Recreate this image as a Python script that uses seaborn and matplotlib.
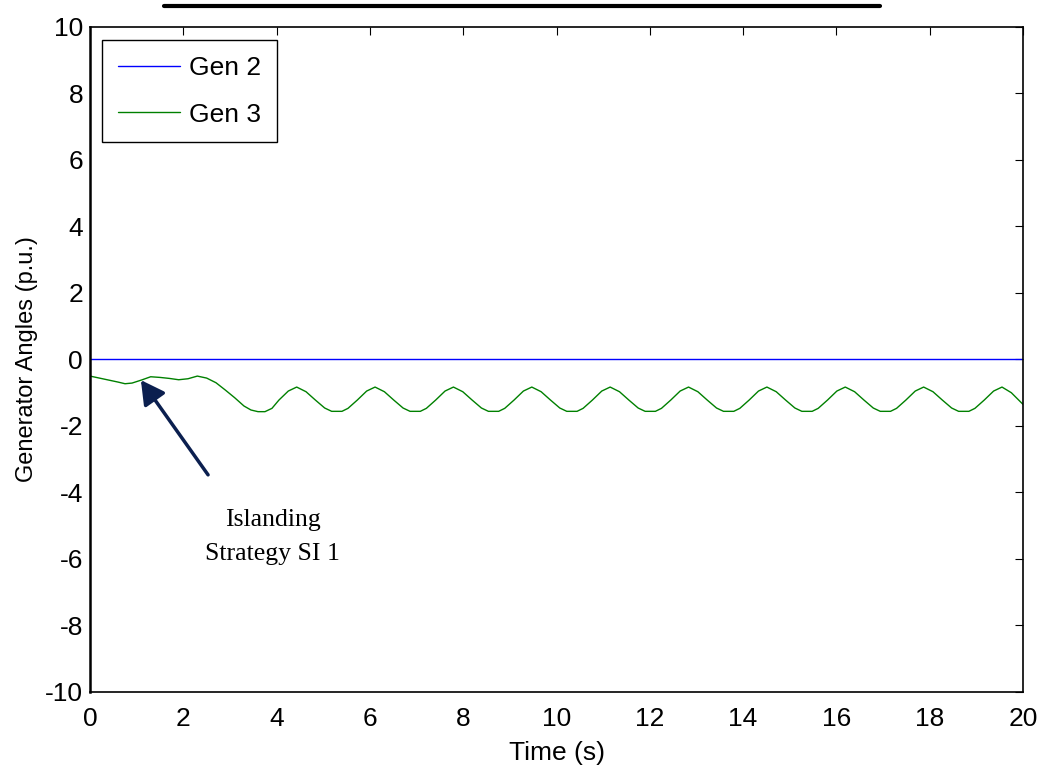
import matplotlib
matplotlib.use("Agg")
import matplotlib.pyplot as plt
from matplotlib.lines import Line2D
import pandas as pd
import seaborn as sns

# Gen 2 stays flat at zero
gen2_time = [0.0, 20.0]
gen2_angle = [0.0, 0.0]

# Gen 3
gen3_time = [0.0, 0.2, 0.4, 0.6, 0.75, 0.9, 1.1, 1.3, 1.5, 1.7, 1.9, 2.1, 2.3, 2.5,
             2.7, 2.9, 3.1, 3.3, 3.45, 3.6, 3.75, 3.9, 4.05, 4.25,
             4.43, 4.63, 4.83, 5.03, 5.18, 5.40, 5.53, 5.73, 5.93,
             6.11, 6.31, 6.51, 6.71, 6.86, 7.08, 7.21, 7.41, 7.61,
             7.79, 7.99, 8.19, 8.39, 8.54, 8.76, 8.89, 9.09, 9.29,
             9.47, 9.67, 9.87, 10.07, 10.22, 10.44, 10.57, 10.77, 10.97,
             11.15, 11.35, 11.55, 11.75, 11.90, 12.12, 12.25, 12.45, 12.65,
             12.83, 13.03, 13.23, 13.43, 13.58, 13.80, 13.93, 14.13, 14.33,
             14.51, 14.71, 14.91, 15.11, 15.26, 15.48, 15.61, 15.81, 16.01,
             16.19, 16.39, 16.59, 16.79, 16.94, 17.16, 17.29, 17.49, 17.69,
             17.87, 18.07, 18.27, 18.47, 18.62, 18.84, 18.97, 19.17, 19.37,
             19.55, 19.75, 20.0]
gen3_angle = [-0.50, -0.56, -0.62, -0.68, -0.73, -0.71, -0.62, -0.52, -0.54, -0.57, -0.61, -0.58, -0.50, -0.56,
              -0.70, -0.92, -1.15, -1.40, -1.52, -1.57, -1.57, -1.47, -1.22, -0.95,
              -0.83, -0.97, -1.22, -1.46, -1.56, -1.56, -1.47, -1.22, -0.95,
              -0.83, -0.97, -1.22, -1.46, -1.56, -1.56, -1.47, -1.22, -0.95,
              -0.83, -0.97, -1.22, -1.46, -1.56, -1.56, -1.47, -1.22, -0.95,
              -0.83, -0.97, -1.22, -1.46, -1.56, -1.56, -1.47, -1.22, -0.95,
              -0.83, -0.97, -1.22, -1.46, -1.56, -1.56, -1.47, -1.22, -0.95,
              -0.83, -0.97, -1.22, -1.46, -1.56, -1.56, -1.47, -1.22, -0.95,
              -0.83, -0.97, -1.22, -1.46, -1.56, -1.56, -1.47, -1.22, -0.95,
              -0.83, -0.97, -1.22, -1.46, -1.56, -1.56, -1.47, -1.22, -0.95,
              -0.83, -0.97, -1.22, -1.46, -1.56, -1.56, -1.47, -1.22, -0.95,
              -0.83, -1.00, -1.35]

xticks = list(range(0, 21, 2))
yticks = list(range(-10, 11, 2))

sns.set_style("white")
plt.rcParams['font.family'] = ['Liberation Sans', 'DejaVu Sans']
plt.rcParams['axes.unicode_minus'] = False
plt.rcParams['text.color'] = 'black'
plt.rcParams['axes.labelcolor'] = 'black'

df2 = pd.DataFrame({"t": gen2_time, "a": gen2_angle})
df3 = pd.DataFrame({"t": gen3_time, "a": gen3_angle})

fig = plt.figure(figsize=(10.41, 7.68), dpi=100)
ax = fig.add_axes([0.0865, 0.099, 0.8962, 0.8659])

sns.lineplot(data=df2, x="t", y="a", color=(0, 0, 1), lw=1.0, label="Gen 2", ax=ax)
sns.lineplot(data=df3, x="t", y="a", color=(0, 0.5, 0), lw=1.0, label="Gen 3", ax=ax)

ax.set_xlim(0, 20)
ax.set_ylim(-10, 10)
ax.set_xticks(xticks)
ax.set_yticks(yticks)
ax.tick_params(direction='in', top=True, right=True, length=6, width=0.8,
               labelsize=19, colors='black')
ax.tick_params(axis='x', pad=11)
ax.tick_params(axis='y', pad=5)
for s in ax.spines.values():
    s.set_color('black')
    s.set_linewidth(1.2)
ax.spines['left'].set_linewidth(1.8)

ax.set_xlabel("Time (s)", fontsize=19, labelpad=7)
ax.set_ylabel("Generator Angles (p.u.)", fontsize=17, labelpad=5)

leg = ax.legend(loc='upper left', bbox_to_anchor=(0.0129, 0.980), borderaxespad=0,
                fontsize=19, frameon=True, fancybox=False, edgecolor='black',
                framealpha=1, handlelength=2.35, handletextpad=0.35,
                borderpad=0.6, labelspacing=0.85)
leg.get_frame().set_linewidth(1.0)

# annotation: arrow and text drawn separately
ax.annotate("", xy=(1.09, -0.62), xytext=(2.53, -3.47),
            arrowprops=dict(arrowstyle='-|>,head_length=0.55,head_width=0.3',
                            mutation_scale=26, color='#0b1f4f', lw=2.5,
                            shrinkA=0, shrinkB=0))
ax.text(3.92, -5.34, "Islanding\nStrategy SI 1", ha='center', va='center',
        fontsize=18.5, family='Liberation Serif', linespacing=1.7)

# black bar above the axes
fig.add_artist(Line2D([164 / 1041, 880 / 1041], [1 - 5.5 / 768, 1 - 5.5 / 768],
                      transform=fig.transFigure, color='black', lw=3))

fig.savefig("out.png", dpi=100)
